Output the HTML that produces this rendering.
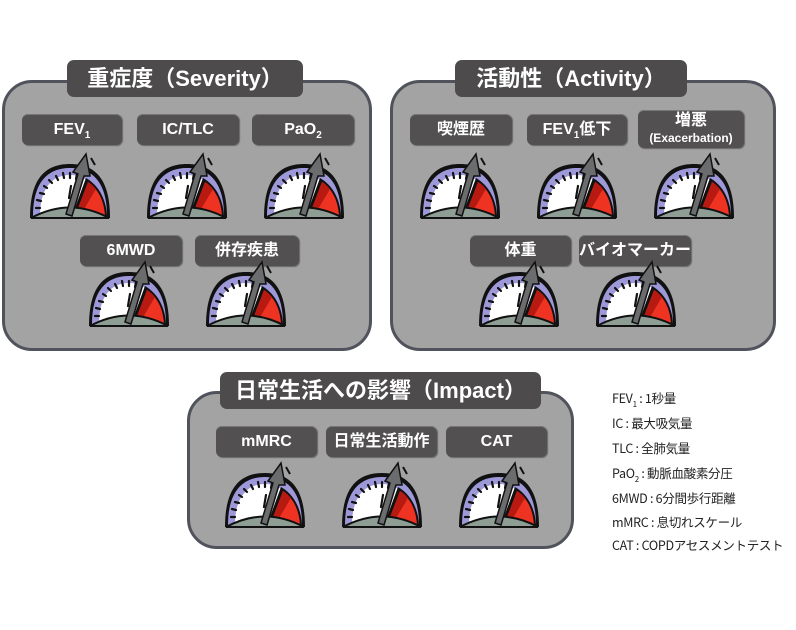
<!DOCTYPE html>
<html><head><meta charset="utf-8"><style>
body{margin:0;width:796px;height:630px;background:#fff;position:relative;overflow:hidden;font-family:"Liberation Sans","Noto Sans CJK JP",sans-serif}
.panel{position:absolute;background:#a3a3a3;border:3px solid #50535c;border-radius:30px;box-sizing:border-box}
.title{position:absolute;background:#4d4b4b;color:#fff;font-weight:bold;font-size:22px;border-radius:7px;text-align:center;box-sizing:border-box;height:37px;line-height:37px}
.btn{position:absolute;background:#525050;color:#fff;font-weight:bold;font-size:16px;border-radius:6px;text-align:center;box-shadow:inset 0 1px 0 #777, 1px 1px 1px #666;height:31px;line-height:31px;overflow:hidden}
.sb{font-size:10px;position:relative;top:4px}
.g{position:absolute;width:84px;height:68px}
.leg{position:absolute;left:612px;font-size:12.5px;color:#222;font-family:"Noto Sans CJK JP",sans-serif;white-space:nowrap;letter-spacing:-0.3px}
.ls{font-size:8px;position:relative;top:4px}
</style></head><body>
<svg width="0" height="0" style="position:absolute"><defs>
<symbol id="gauge" viewBox="0 0 84 68">
<path d="M2,66 C2,28 16,12 42,12 C68,12 82,28 82,66 Z" fill="#111"/>
<path d="M5,64 C5,31 19,16 42,16 C65,16 79,31 79,64 Z" fill="#9d98d8"/>
<path d="M12,64 C12,35 25,23 42,23 C52,23 58,27 62,32 L44,64 Z" fill="#fff"/>
<path d="M44,64 L58,26 C70,33 78,46 79,64 Z" fill="#111"/>
<path d="M47,64 L60,30 C70,37 76,48 77,64 Z" fill="#ee3322"/>
<path d="M60,30 C64,32 66,35 68,37 L52,64 L47,64Z" fill="#b81a12"/>
<g stroke="#111" stroke-width="2.2" stroke-linecap="round">
<line x1="8" y1="56" x2="12" y2="56"/><line x1="9" y1="48" x2="13" y2="49"/><line x1="12" y1="41" x2="16" y2="42"/><line x1="16" y1="34" x2="19" y2="36"/><line x1="21" y1="28" x2="24" y2="31"/><line x1="28" y1="24" x2="30" y2="28"/><line x1="35" y1="21" x2="36" y2="26"/><line x1="42" y1="21" x2="42" y2="26"/><line x1="49" y1="22" x2="48" y2="27"/><line x1="43" y1="34" x2="41" y2="46"/>
</g>
<path d="M3,66 Q42,45 81,66 Z" fill="#8e9e94" stroke="#111" stroke-width="2"/>
<path d="M38,62 L50,22 L45,20 L58,2 L62,24 L56,24 L44,64 Z" fill="#6a6c6e" stroke="#111" stroke-width="1.5"/>
<line x1="63" y1="6" x2="67" y2="13" stroke="#111" stroke-width="2"/>
</symbol></defs></svg>

<div class="panel" style="left:2px;top:80px;width:370px;height:271px"></div>
<div class="title" style="left:67px;top:60px;width:236px">重症度（Severity）</div>
<div class="btn" style="left:22px;top:114px;width:100px">FEV<span class="sb">1</span></div>
<div class="btn" style="left:137px;top:114px;width:102px">IC/TLC</div>
<div class="btn" style="left:252px;top:114px;width:102px">PaO<span class="sb">2</span></div>
<div class="btn" style="left:80px;top:235px;width:102px">6MWD</div>
<div class="btn" style="left:195px;top:235px;width:104px">併存疾患</div>
<svg class="g" style="left:28px;top:152px"><use href="#gauge"/></svg>
<svg class="g" style="left:145px;top:152px"><use href="#gauge"/></svg>
<svg class="g" style="left:262px;top:152px"><use href="#gauge"/></svg>
<svg class="g" style="left:87px;top:260px"><use href="#gauge"/></svg>
<svg class="g" style="left:204px;top:260px"><use href="#gauge"/></svg>

<div class="panel" style="left:390px;top:80px;width:386px;height:271px"></div>
<div class="title" style="left:455px;top:60px;width:232px">活動性（Activity）</div>
<div class="btn" style="left:410px;top:114px;width:102px">喫煙歴</div>
<div class="btn" style="left:527px;top:114px;width:100px">FEV<span class="sb">1</span>低下</div>
<div class="btn" style="left:638px;top:110px;width:106px;height:38px;line-height:17px;padding-top:2px;box-sizing:border-box">増悪<br><span style="font-size:12px">(Exacerbation)</span></div>
<div class="btn" style="left:470px;top:235px;width:101px">体重</div>
<div class="btn" style="left:579px;top:235px;width:112px">バイオマーカー</div>
<svg class="g" style="left:418px;top:152px"><use href="#gauge"/></svg>
<svg class="g" style="left:535px;top:152px"><use href="#gauge"/></svg>
<svg class="g" style="left:652px;top:152px"><use href="#gauge"/></svg>
<svg class="g" style="left:477px;top:260px"><use href="#gauge"/></svg>
<svg class="g" style="left:594px;top:260px"><use href="#gauge"/></svg>

<div class="panel" style="left:187px;top:391px;width:387px;height:158px"></div>
<div class="title" style="left:220px;top:372px;width:321px">日常生活への影響（Impact）</div>
<div class="btn" style="left:216px;top:426px;width:101px">mMRC</div>
<div class="btn" style="left:326px;top:426px;width:111px">日常生活動作</div>
<div class="btn" style="left:446px;top:426px;width:101px">CAT</div>
<svg class="g" style="left:223px;top:461px"><use href="#gauge"/></svg>
<svg class="g" style="left:340px;top:461px"><use href="#gauge"/></svg>
<svg class="g" style="left:457px;top:461px"><use href="#gauge"/></svg>

<div class="leg" style="top:388px">FEV<span class="ls">1</span> : 1秒量</div>
<div class="leg" style="top:413px">IC : 最大吸気量</div>
<div class="leg" style="top:438px">TLC : 全肺気量</div>
<div class="leg" style="top:463px">PaO<span class="ls">2</span> : 動脈血酸素分圧</div>
<div class="leg" style="top:488px">6MWD : 6分間歩行距離</div>
<div class="leg" style="top:512px">mMRC : 息切れスケール</div>
<div class="leg" style="top:535px">CAT : COPDアセスメントテスト</div>
</body></html>
